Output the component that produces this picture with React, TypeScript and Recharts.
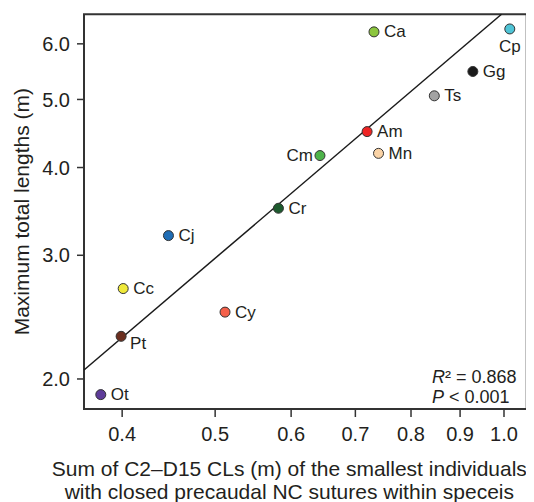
import React from "react";
import { ScatterChart, Scatter, XAxis, YAxis, ReferenceArea, ReferenceLine, Label } from "recharts";

// species codes and measured values (log–log plot)
const species = ["Ot", "Pt", "Cc", "Cj", "Cy", "Cr", "Cm", "Am", "Mn", "Ca", "Ts", "Gg", "Cp"];
const sumCL = [0.38, 0.399, 0.401, 0.447, 0.512, 0.582, 0.643, 0.72, 0.74, 0.732, 0.846, 0.928, 1.014];
const maxLength = [1.9, 2.3, 2.69, 3.2, 2.49, 3.5, 4.16, 4.5, 4.19, 6.24, 5.06, 5.48, 6.3];

const xTicks = [0.4, 0.5, 0.6, 0.7, 0.8, 0.9, 1.0];
const yTicks = [2, 3, 4, 5, 6];
const xDomain = [0.365, 1.056];
const yDomain = [1.8125, 6.61];

// regression line end points
const fitX = [0.365, 0.994];
const fitY = [2.06, 6.61];

const colors: Record<string, string> = {
  Ot: "#5e3c99",
  Pt: "#6b2f1f",
  Cc: "#efe93a",
  Cj: "#1f6db5",
  Cy: "#f4604a",
  Cr: "#1d5a2e",
  Cm: "#4db34a",
  Am: "#ee2424",
  Mn: "#fad3a6",
  Ca: "#8cc63e",
  Ts: "#a3a3a3",
  Gg: "#1a1a1a",
  Cp: "#4fc4d6",
};

const labelSide: Record<string, string> = { Cp: "below", Cm: "left", Pt: "belowRight" };

const points = species.map((name, i) => ({ name, x: sumCL[i], y: maxLength[i] }));

const font = "'Liberation Sans', Arial, sans-serif";
const ink = "#231f20";

const SpeciesDot = (props: any) => {
  const { cx, cy, payload } = props;
  const side = labelSide[payload.name] ?? "right";
  let tx = cx + 10;
  let ty = cy;
  let anchor: "start" | "middle" | "end" = "start";
  if (side === "left") {
    tx = cx - 7;
    anchor = "end";
  } else if (side === "below") {
    tx = cx;
    ty = cy + 18;
    anchor = "middle";
  } else if (side === "belowRight") {
    tx = cx + 9;
    ty = cy + 7;
  }
  return (
    <g>
      <circle cx={cx} cy={cy} r={5} fill={colors[payload.name]} stroke="#333" strokeWidth={1} />
      <text x={tx} y={ty} textAnchor={anchor} dominantBaseline="central" fontSize={17} fill={ink} fontFamily={font}>
        {payload.name}
      </text>
    </g>
  );
};

const XTitle = (props: any) => {
  const { viewBox } = props;
  const cx = viewBox.x + viewBox.width / 2 - 16;
  return (
    <text textAnchor="middle" fontSize={21} fill={ink} fontFamily={font}>
      <tspan x={cx} y={viewBox.y + 67}>Sum of C2–D15 CLs (m) of the smallest individuals</tspan>
      <tspan x={cx} y={viewBox.y + 90}>with closed precaudal NC sutures within speceis</tspan>
    </text>
  );
};

const YTitle = (props: any) => {
  const { viewBox } = props;
  const x = 14;
  const y = viewBox.y + viewBox.height / 2;
  return (
    <text
      x={x}
      y={y}
      transform={`rotate(-90, ${x}, ${y})`}
      textAnchor="middle"
      dominantBaseline="central"
      fontSize={21}
      fill={ink}
      fontFamily={font}
    >
      Maximum total lengths (m)
    </text>
  );
};

const StatsNote = (props: any) => {
  const { viewBox } = props;
  const x = viewBox.x + viewBox.width - 94.7;
  const y = viewBox.y + viewBox.height;
  return (
    <text fontSize={18} fill={ink} fontFamily={font}>
      <tspan x={x} y={y - 26}>
        <tspan fontStyle="italic">R</tspan>² = 0.868
      </tspan>
      <tspan x={x} y={y - 6}>
        <tspan fontStyle="italic">P</tspan> &lt; 0.001
      </tspan>
    </text>
  );
};

export default function App() {
  return (
    <div style={{ width: 526, height: 494 }}>
      <ScatterChart width={526} height={494} margin={{ top: 6.3, right: 7.3, bottom: 0, left: 0 }}>
        <XAxis
          type="number"
          dataKey="x"
          scale="log"
          domain={xDomain}
          ticks={xTicks}
          allowDataOverflow
          height={93}
          axisLine={false}
          tickLine={{ stroke: "#333", strokeWidth: 1.5 }}
          tickSize={8}
          tickMargin={10}
          tick={{ fontSize: 20, fill: ink, fontFamily: font }}
          tickFormatter={(v: number) => v.toFixed(1)}
        >
          <Label content={<XTitle />} />
        </XAxis>
        <YAxis
          type="number"
          dataKey="y"
          scale="log"
          domain={yDomain}
          ticks={yTicks}
          allowDataOverflow
          width={76}
          axisLine={false}
          tickLine={{ stroke: "#333", strokeWidth: 1.5 }}
          tickSize={7}
          tickMargin={7}
          tick={{ fontSize: 20, fill: ink, fontFamily: font }}
          tickFormatter={(v: number) => v.toFixed(1)}
        >
          <Label content={<YTitle />} />
        </YAxis>
        <ReferenceArea
          x1={xDomain[0]}
          x2={xDomain[1]}
          y1={yDomain[0]}
          y2={yDomain[1]}
          fill="none"
          stroke="#333"
          strokeWidth={2}
          ifOverflow="visible"
        >
          <Label content={<StatsNote />} />
        </ReferenceArea>
        <ReferenceLine
          segment={[
            { x: fitX[0], y: fitY[0] },
            { x: fitX[1], y: fitY[1] },
          ]}
          stroke="#1a1a1a"
          strokeWidth={1.5}
          ifOverflow="visible"
        />
        <Scatter data={points} shape={<SpeciesDot />} isAnimationActive={false} />
      </ScatterChart>
    </div>
  );
}
